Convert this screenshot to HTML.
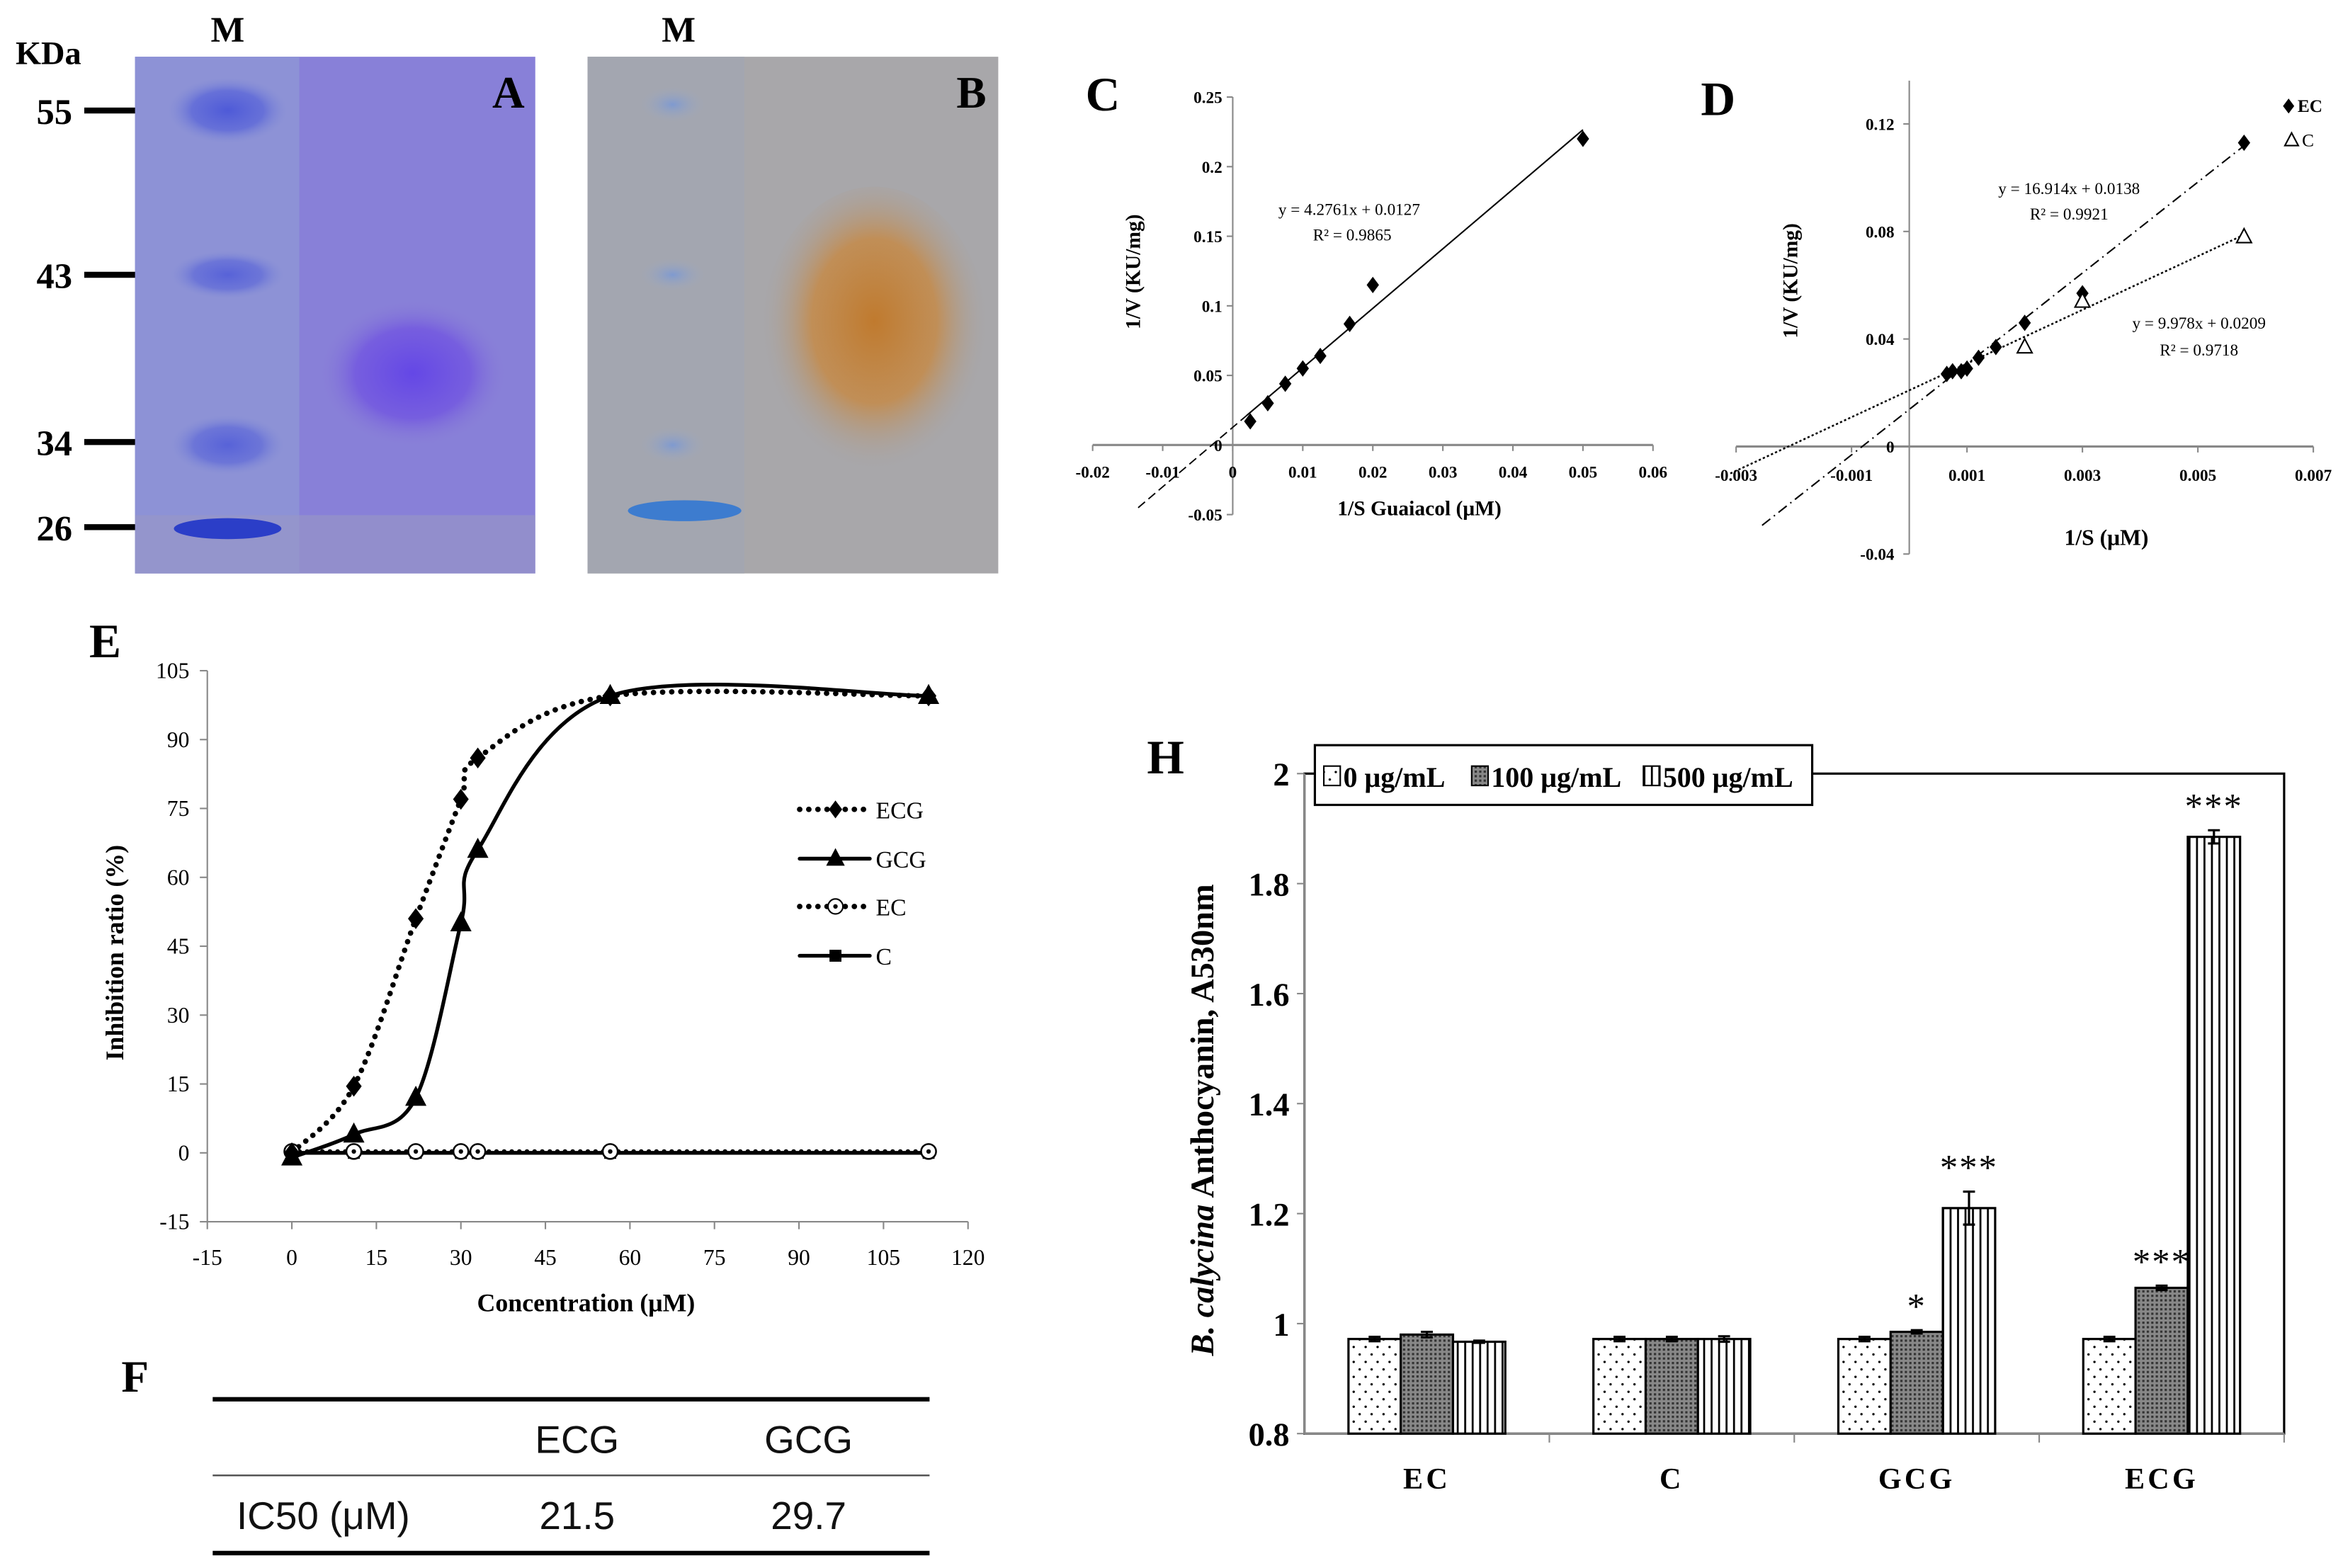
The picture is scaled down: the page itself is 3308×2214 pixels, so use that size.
<!DOCTYPE html>
<html><head><meta charset="utf-8"><style>
html,body{margin:0;padding:0;background:#fff}
svg{display:block}
text{font-family:"Liberation Serif",serif}
text.sans{font-family:"Liberation Sans",sans-serif}
.b{font-weight:bold}
</style></head><body>
<svg id="s" width="3308" height="2214" viewBox="0 0 1568 1050" xmlns="http://www.w3.org/2000/svg">
<defs>
<radialGradient id="bandA" cx="50%" cy="50%" r="50%"><stop offset="0" stop-color="#6447e6"/><stop offset="0.6" stop-color="#7358e0" stop-opacity="0.85"/><stop offset="1" stop-color="#8b80d6" stop-opacity="0"/></radialGradient>
<radialGradient id="bandB" cx="50%" cy="45%" r="50%"><stop offset="0" stop-color="#c07a2e"/><stop offset="0.55" stop-color="#c58a48" stop-opacity="0.85"/><stop offset="1" stop-color="#a8a3a2" stop-opacity="0"/></radialGradient>
<radialGradient id="mk" cx="50%" cy="50%" r="50%"><stop offset="0" stop-color="#4e5ad8"/><stop offset="0.6" stop-color="#5d68d8" stop-opacity="0.8"/><stop offset="1" stop-color="#7f8ad8" stop-opacity="0"/></radialGradient>
<radialGradient id="mkB" cx="50%" cy="50%" r="50%"><stop offset="0" stop-color="#7f9ad0"/><stop offset="1" stop-color="#a0a8bc" stop-opacity="0"/></radialGradient>
<pattern id="dots" width="8" height="10" patternUnits="userSpaceOnUse"><rect width="8" height="10" fill="#fff"/><circle cx="2" cy="2" r="0.8" fill="#000"/><circle cx="6" cy="7" r="0.8" fill="#000"/></pattern>
<pattern id="grid" width="3" height="3" patternUnits="userSpaceOnUse"><rect width="3" height="3" fill="#888"/><rect width="1.5" height="1.5" fill="#333"/></pattern>
<pattern id="vl" width="5" height="10" patternUnits="userSpaceOnUse"><rect width="5" height="10" fill="#fff"/><rect x="0" width="1.3" height="10" fill="#000"/></pattern>
</defs>

<!-- Gel A -->
<g>
<rect x="90" y="38" width="268" height="346" fill="#8880d8"/>
<rect x="90" y="38" width="110" height="346" fill="#8d92d6"/>
<rect x="90" y="345" width="268" height="39" fill="#9a97c4" opacity="0.6"/>
<ellipse cx="152" cy="74" rx="40" ry="22" fill="url(#mk)"/>
<ellipse cx="152" cy="184" rx="38" ry="16" fill="url(#mk)" opacity="0.85"/>
<ellipse cx="152" cy="298" rx="38" ry="20" fill="url(#mk)" opacity="0.85"/>
<ellipse cx="152" cy="354" rx="36" ry="7" fill="#2b3ec8"/>
<ellipse cx="276" cy="250" rx="64" ry="50" fill="url(#bandA)"/>
<text x="340" y="72" class="b" font-size="30" text-anchor="middle">A</text>
</g>
<!-- Gel B -->
<g>
<rect x="393" y="38" width="275" height="346" fill="#a8a7aa"/>
<rect x="393" y="38" width="105" height="346" fill="#a3a6b0"/>
<ellipse cx="450" cy="70" rx="22" ry="12" fill="url(#mkB)"/>
<ellipse cx="450" cy="184" rx="22" ry="11" fill="url(#mkB)"/>
<ellipse cx="450" cy="298" rx="22" ry="12" fill="url(#mkB)"/>
<ellipse cx="458" cy="342" rx="38" ry="7" fill="#3d7ccf"/>
<ellipse cx="585" cy="225" rx="76" ry="100" fill="url(#bandB)"/>
<text x="650" y="72" class="b" font-size="30" text-anchor="middle">B</text>
</g>
<g>
<text x="10" y="43" class="b" font-size="22">KDa</text>
<text x="152" y="28" class="b" font-size="24" text-anchor="middle">M</text>
<text x="454" y="28" class="b" font-size="24" text-anchor="middle">M</text>
<g font-size="24" class="b" text-anchor="end">
<text x="48" y="83">55</text><text x="48" y="193">43</text><text x="48" y="305">34</text><text x="48" y="362">26</text></g>
<g stroke="#000" stroke-width="4">
<line x1="56" x2="90" y1="74" y2="74"/><line x1="56" x2="90" y1="184" y2="184"/><line x1="56" x2="90" y1="296" y2="296"/><line x1="56" x2="90" y1="353" y2="353"/></g>
</g>

<g id="pc"></g>
<g id="pd"></g>
<g id="pe"></g>
<g id="ph"></g>

<!-- Table F -->
<g>
<text x="90" y="932" class="b" font-size="30" text-anchor="middle">F</text>
<line x1="142" x2="622" y1="937" y2="937" stroke="#000" stroke-width="3"/>
<line x1="142" x2="622" y1="988" y2="988" stroke="#555" stroke-width="1.2"/>
<line x1="142" x2="622" y1="1040" y2="1040" stroke="#000" stroke-width="3"/>
<g font-size="26" fill="#111">
<text class="sans" x="386" y="973" text-anchor="middle">ECG</text><text class="sans" x="541" y="973" text-anchor="middle">GCG</text>
<text class="sans" x="158" y="1024">IC50 (μM)</text><text class="sans" x="386" y="1024" text-anchor="middle">21.5</text><text class="sans" x="541" y="1024" text-anchor="middle">29.7</text></g>
</g>
</svg>
<script>
// ---------- Panel C data ----------
const cX=[0.0025,0.005,0.0075,0.01,0.0125,0.0167,0.02,0.05];
const cY=[0.017,0.03,0.044,0.055,0.064,0.087,0.115,0.22];
const cXTicks=[-0.02,-0.01,0,0.01,0.02,0.03,0.04,0.05,0.06];
const cXTickLabels=["-0.02","-0.01","0","0.01","0.02","0.03","0.04","0.05","0.06"];
const cYTicks=[-0.05,0,0.05,0.1,0.15,0.2,0.25];
const cYTickLabels=["-0.05","0","0.05","0.1","0.15","0.2","0.25"];
const cFit=[4.2761,0.0127];
// ---------- Panel D data ----------
const dECx=[0.00065,0.00075,0.0009,0.001,0.0012,0.0015,0.002,0.003,0.0058];
const dECy=[0.027,0.028,0.028,0.029,0.033,0.037,0.046,0.057,0.113];
const dCx=[0.002,0.003,0.0058];
const dCy=[0.037,0.054,0.078];
const dFitEC=[16.914,0.0138];
const dFitC=[9.978,0.0209];
const dXTicks=[-0.003,-0.001,0.001,0.003,0.005,0.007];
const dXTickLabels=["-0.003","-0.001","0.001","0.003","0.005","0.007"];
const dYTicks=[-0.04,0,0.04,0.08,0.12];
const dYTickLabels=["-0.04","0","0.04","0.08","0.12"];
// ---------- Panel E data ----------
const eConc=[0,11,22,30,33,56.5,113];
const eECG=[0,14.5,51,77,86,99.5,99.5];
const eGCG=[-1,4,12,50,66,99.5,99.5];
const eEC=[0.3,0.3,0.3,0.3,0.3,0.3,0.3];
const eC=[0,0,0,0,0,0,0];
const eXTicks=[-15,0,15,30,45,60,75,90,105,120];
const eYTicks=[-15,0,15,30,45,60,75,90,105];
// ---------- Panel H data ----------
const hCats=["EC","C","GCG","ECG"];
const hV0=[0.972,0.972,0.972,0.972];
const hV100=[0.98,0.972,0.985,1.065];
const hV500=[0.967,0.972,1.21,1.885];
const hE0=[0.004,0.004,0.004,0.004];
const hE100=[0.005,0.004,0.003,0.004];
const hE500=[0.002,0.005,0.03,0.012];
const hSig100=["","","*","***"];
const hSig500=["","","***","***"];
const hYTicks=[0.8,1,1.2,1.4,1.6,1.8,2];
const hYTickLabels=["0.8","1","1.2","1.4","1.6","1.8","2"];

const NS="http://www.w3.org/2000/svg";
function el(parent,tag,attrs,txt){const e=document.createElementNS(NS,tag);for(const k in attrs)e.setAttribute(k,attrs[k]);if(txt!==undefined)e.textContent=txt;parent.appendChild(e);return e;}
function diamond(g,x,y,r){return el(g,'path',{d:`M${x} ${y-r}L${x+r*0.75} ${y}L${x} ${y+r}L${x-r*0.75} ${y}Z`,fill:'#000'});}
function tri(g,x,y,r,fill){return el(g,'path',{d:`M${x} ${y-r}L${x+r*0.9} ${y+r*0.7}L${x-r*0.9} ${y+r*0.7}Z`,fill:fill,stroke:'#000','stroke-width':1});}

// ---- Panel C ----
(function(){
const g=document.getElementById('pc');
const X=v=>825+v*4690, Y=v=>298-v*932;
el(g,'text',{x:738,y:74,'font-size':32,'font-weight':'bold','text-anchor':'middle'},'C');
el(g,'line',{x1:X(0),x2:X(0),y1:Y(0.25),y2:Y(-0.05),stroke:'#888','stroke-width':1});
el(g,'line',{x1:X(-0.02),x2:X(0.06),y1:Y(0),y2:Y(0),stroke:'#888','stroke-width':1.5});
cXTicks.forEach((t,i)=>{el(g,'line',{x1:X(t),x2:X(t),y1:Y(0),y2:Y(0)+4,stroke:'#888'});
 const tx=el(g,'text',{x:X(t),y:320,'font-size':11,'font-weight':'bold','text-anchor':'middle'},cXTickLabels[i]);
 });
cYTicks.forEach((t,i)=>{el(g,'line',{x1:X(0)-4,x2:X(0),y1:Y(t),y2:Y(t),stroke:'#888'});
 const tx=el(g,'text',{x:X(0)-7,y:Y(t)+4,'font-size':11,'font-weight':'bold','text-anchor':'end'},cYTickLabels[i]);
 });
const x0=-0.0135,x1=0.05;
el(g,'line',{x1:X(x0),y1:Y(cFit[0]*x0+cFit[1]),x2:X(0.002),y2:Y(cFit[0]*0.002+cFit[1]),stroke:'#000','stroke-dasharray':'6 3','stroke-width':0.9});
el(g,'line',{x1:X(0.002),y1:Y(cFit[0]*0.002+cFit[1]),x2:X(x1),y2:Y(cFit[0]*x1+cFit[1]),stroke:'#000','stroke-width':1});
cX.forEach((v,i)=>{const d=diamond(g,X(v),Y(cY[i]),5.5);});
el(g,'text',{x:903,y:144,'font-size':11,'text-anchor':'middle'},'y = 4.2761x  + 0.0127');
el(g,'text',{x:905,y:161,'font-size':11,'text-anchor':'middle'},'R² = 0.9865');
el(g,'text',{x:950,y:345,'font-size':14,'font-weight':'bold','text-anchor':'middle'},'1/S Guaiacol (μM)');
el(g,'text',{x:0,y:0,'font-size':14,'font-weight':'bold','text-anchor':'middle',transform:'translate(763,182) rotate(-90)'},'1/V (KU/mg)');
})();

// ---- Panel D ----
(function(){
const g=document.getElementById('pd');
const X=v=>1278+v*38650, Y=v=>299-v*1800;
el(g,'text',{x:1150,y:77,'font-size':32,'font-weight':'bold','text-anchor':'middle'},'D');
el(g,'line',{x1:X(0),x2:X(0),y1:54,y2:Y(-0.04),stroke:'#888'});
el(g,'line',{x1:X(-0.003),x2:X(0.007),y1:Y(0),y2:Y(0),stroke:'#888','stroke-width':1.5});
dXTicks.forEach((t,i)=>{el(g,'line',{x1:X(t),x2:X(t),y1:Y(0),y2:Y(0)+4,stroke:'#888'});
 const tx=el(g,'text',{x:X(t),y:322,'font-size':11,'font-weight':'bold','text-anchor':'middle'},dXTickLabels[i]);
 });
dYTicks.forEach((t,i)=>{el(g,'line',{x1:X(0)-4,x2:X(0),y1:Y(t),y2:Y(t),stroke:'#888'});
 const tx=el(g,'text',{x:X(0)-10,y:Y(t)+4,'font-size':11,'font-weight':'bold','text-anchor':'end'},dYTickLabels[i]);
 });
let a=-0.00255,b=0.0058;
el(g,'line',{x1:X(a),y1:Y(dFitEC[0]*a+dFitEC[1]),x2:X(b),y2:Y(dFitEC[0]*b+dFitEC[1]),stroke:'#000','stroke-dasharray':'7 3 1 3','stroke-width':1});
a=-0.0031;
el(g,'line',{x1:X(a),y1:Y(dFitC[0]*a+dFitC[1]),x2:X(b),y2:Y(dFitC[0]*b+dFitC[1]),stroke:'#000','stroke-dasharray':'1.5 1.5','stroke-width':1.2});
dECx.forEach((v,i)=>{const d=diamond(g,X(v),Y(dECy[i]),5.5);});
dCx.forEach((v,i)=>{const d=tri(g,X(v),Y(dCy[i]),5.5,'#fff');});
el(g,'text',{x:1385,y:130,'font-size':11,'text-anchor':'middle'},'y = 16.914x  + 0.0138');
el(g,'text',{x:1385,y:147,'font-size':11,'text-anchor':'middle'},'R² = 0.9921');
el(g,'text',{x:1472,y:220,'font-size':11,'text-anchor':'middle'},'y = 9.978x  + 0.0209');
el(g,'text',{x:1472,y:238,'font-size':11,'text-anchor':'middle'},'R² = 0.9718');
diamond(g,1532,71,5);
el(g,'text',{x:1538,y:75,'font-size':12,'font-weight':'bold'},'EC');
tri(g,1534,94,5,'#fff');
el(g,'text',{x:1541,y:98,'font-size':12},'C');
el(g,'text',{x:1410,y:365,'font-size':15,'font-weight':'bold','text-anchor':'middle'},'1/S (μM)');
el(g,'text',{x:0,y:0,'font-size':14,'font-weight':'bold','text-anchor':'middle',transform:'translate(1203,188) rotate(-90)'},'1/V (KU/mg)');
})();

// ---- Panel E ----
function smoothPath(pts){let d=`M${pts[0][0]} ${pts[0][1]}`;
 for(let i=0;i<pts.length-1;i++){const p0=pts[Math.max(0,i-1)],p1=pts[i],p2=pts[i+1],p3=pts[Math.min(pts.length-1,i+2)];
 const c1=[p1[0]+(p2[0]-p0[0])/6,p1[1]+(p2[1]-p0[1])/6],c2=[p2[0]-(p3[0]-p1[0])/6,p2[1]-(p3[1]-p1[1])/6];
 d+=`C${c1[0]} ${c1[1]} ${c2[0]} ${c2[1]} ${p2[0]} ${p2[1]}`;}return d;}
(function(){
const g=document.getElementById('pe');
const X=v=>195+v*3.773, Y=v=>772-v*3.075;
el(g,'text',{x:70,y:440,'font-size':32,'font-weight':'bold','text-anchor':'middle'},'E');
el(g,'line',{x1:X(-15),x2:X(-15),y1:Y(105),y2:Y(-15),stroke:'#888'});
el(g,'line',{x1:X(-15),x2:X(120),y1:Y(-15),y2:Y(-15),stroke:'#888'});
eXTicks.forEach(t=>{el(g,'line',{x1:X(t),x2:X(t),y1:Y(-15),y2:Y(-15)+5,stroke:'#888'});
 const tx=el(g,'text',{x:X(t),y:847,'font-size':15,'text-anchor':'middle'},String(t));
 });
eYTicks.forEach(t=>{el(g,'line',{x1:X(-15)-5,x2:X(-15),y1:Y(t),y2:Y(t),stroke:'#888'});
 const tx=el(g,'text',{x:X(-15)-12,y:Y(t)+5,'font-size':15,'text-anchor':'end'},String(t));
 });
const P=arr=>eConc.map((c,i)=>[X(c),Y(arr[i])]);
let p=el(g,'path',{d:smoothPath(P(eC)),fill:'none',stroke:'#000','stroke-width':2.5});

p=el(g,'path',{d:smoothPath(P(eEC)),fill:'none',stroke:'#000','stroke-width':3,'stroke-dasharray':'0.1 5','stroke-linecap':'round'});

p=el(g,'path',{d:smoothPath(P(eGCG)),fill:'none',stroke:'#000','stroke-width':2.5});

p=el(g,'path',{d:smoothPath(P(eECG)),fill:'none',stroke:'#000','stroke-width':3.6,'stroke-dasharray':'0.1 6','stroke-linecap':'round'});

P(eC).forEach(q=>el(g,'rect',{x:q[0]-4,y:q[1]-4,width:8,height:8,fill:'#000'}));
P(eEC).forEach(q=>{el(g,'circle',{cx:q[0],cy:q[1],r:5,fill:'#fff',stroke:'#000','stroke-width':1.2});el(g,'circle',{cx:q[0],cy:q[1],r:1.5,fill:'#000'});});
P(eGCG).forEach(q=>tri(g,q[0],q[1],7,'#000'));
P(eECG).forEach(q=>diamond(g,q[0],q[1],7));
const L=[[542,'ECG','dot','d'],[575,'GCG','solid','t'],[607,'EC','dot','o'],[640,'C','solid','s']];
L.forEach(l=>{const lg=el(g,'g',{});
 el(lg,'line',{x1:535,x2:582,y1:l[0],y2:l[0],stroke:'#000','stroke-width':l[2]=='dot'?3.6:2.5,'stroke-dasharray':l[2]=='dot'?'0.1 6':'none','stroke-linecap':'round'});
 if(l[3]=='d')diamond(lg,559,l[0],6);if(l[3]=='t')tri(lg,559,l[0],6,'#000');
 if(l[3]=='o'){el(lg,'circle',{cx:559,cy:l[0],r:5,fill:'#fff',stroke:'#000'});el(lg,'circle',{cx:559,cy:l[0],r:1.5});}
 if(l[3]=='s')el(lg,'rect',{x:555,y:l[0]-4,width:8,height:8});
 el(lg,'text',{x:586,y:l[0]+6,'font-size':16},l[1]);});
el(g,'text',{x:392,y:878,'font-size':17,'font-weight':'bold','text-anchor':'middle'},'Concentration (μM)');
el(g,'text',{x:0,y:0,'font-size':17,'font-weight':'bold','text-anchor':'middle',transform:'translate(82,638) rotate(-90)'},'Inhibition ratio (%)');
})();

// ---- Panel H ----
(function(){
const g=document.getElementById('ph');
const Y=v=>960-(v-0.8)*368.3, left=873, right=1529, cw=(right-left)/hCats.length, bw=35;
el(g,'text',{x:780,y:518,'font-size':32,'font-weight':'bold','text-anchor':'middle'},'H');
el(g,'rect',{x:left,y:Y(2),width:right-left,height:Y(0.8)-Y(2),fill:'none',stroke:'#000','stroke-width':1.5});
el(g,'line',{x1:left,x2:right,y1:Y(0.8),y2:Y(0.8),stroke:'#888','stroke-width':1.5});
el(g,'line',{x1:left,x2:left,y1:Y(2),y2:Y(0.8),stroke:'#888','stroke-width':1.5});
hYTicks.forEach((t,i)=>{el(g,'line',{x1:left-5,x2:left,y1:Y(t),y2:Y(t),stroke:'#888'});
 const tx=el(g,'text',{x:left-10,y:Y(t)+8,'font-size':22,'font-weight':'bold','text-anchor':'end'},hYTickLabels[i]);
 });
const series=[[hV0,hE0,'url(#dots)',null],[hV100,hE100,'url(#grid)',hSig100],[hV500,hE500,'url(#vl)',hSig500]];
hCats.forEach((c,ci)=>{
 const cx=left+cw*(ci+0.5);
 el(g,'line',{x1:left+cw*(ci+1),x2:left+cw*(ci+1),y1:Y(0.8),y2:Y(0.8)+6,stroke:'#888'});
 const tl=el(g,'text',{x:cx,y:997,'font-size':20,'font-weight':'bold','text-anchor':'middle','letter-spacing':'2'},c);
 
 series.forEach((s,si)=>{const x=cx+(si-1.5)*bw, v=s[0][ci];
  const r=el(g,'rect',{x:x,y:Y(v),width:bw,height:Y(0.8)-Y(v),fill:s[2],stroke:'#000','stroke-width':1.5});
  
  const e=s[1][ci],m=x+bw/2;
  el(g,'path',{d:`M${m} ${Y(v+e)}V${Y(v-e)}M${m-4} ${Y(v+e)}H${m+4}M${m-4} ${Y(v-e)}H${m+4}`,stroke:'#000','stroke-width':1.5,fill:'none'});
  if(s[3]&&s[3][ci]){const st=el(g,'text',{x:m,y:Y(v+e)-8,'font-size':24,'text-anchor':'middle','letter-spacing':'1'},s[3][ci]);
   }
 });
});
const lg=el(g,'g',{});
el(lg,'rect',{x:880,y:499,width:333,height:40,fill:'#fff',stroke:'#000','stroke-width':1.5});
[[886,'url(#dots)','0 μg/mL'],[985,'url(#grid)','100 μg/mL'],[1100,'url(#vl)','500 μg/mL']].forEach(l=>{
 el(lg,'rect',{x:l[0],y:513,width:11,height:13,fill:l[1],stroke:'#000'});
 el(lg,'text',{x:l[0]+13,y:527,'font-size':19,'font-weight':'bold'},l[2]);});
const yt=el(g,'text',{x:0,y:0,'font-size':22,'font-weight':'bold','text-anchor':'middle',transform:'translate(812,750) rotate(-90)'});
el(yt,'tspan',{'font-style':'italic'},'B. calycina');
el(yt,'tspan',{},' Anthocyanin, A530nm');
})();
</script>
</body></html>
